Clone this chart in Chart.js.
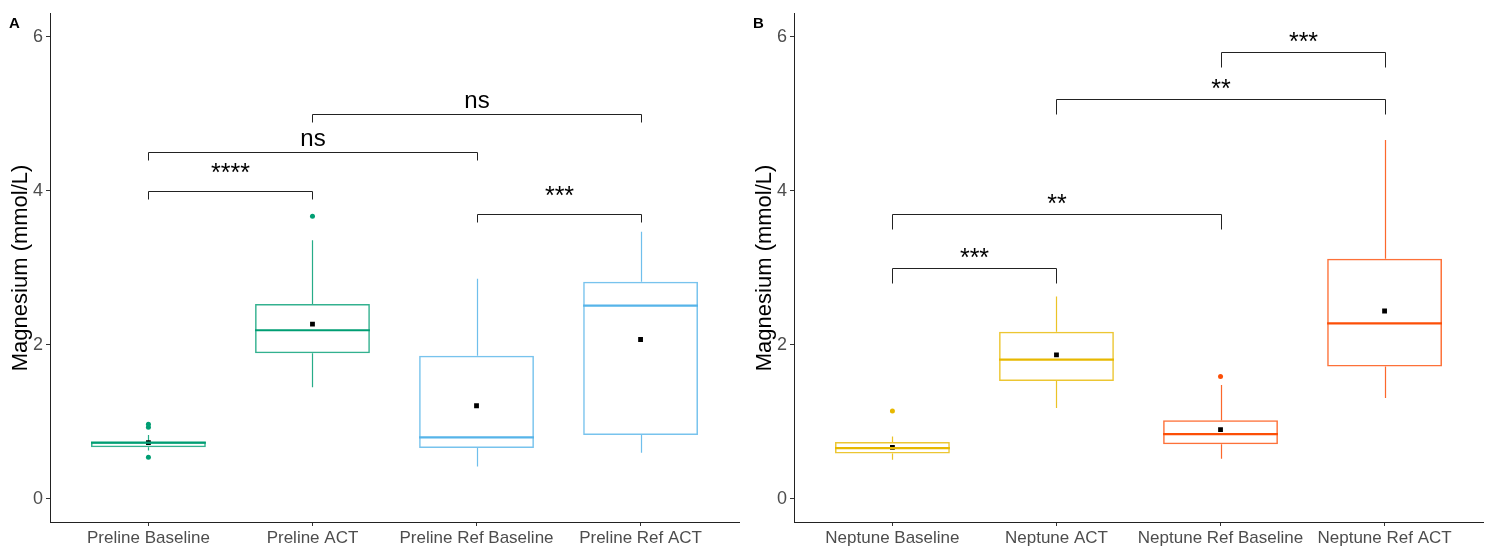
<!DOCTYPE html>
<html>
<head>
<meta charset="utf-8">
<script src="https://cdn.jsdelivr.net/npm/chart.js@4.4.1/dist/chart.umd.min.js"></script>
<style>
  body { margin: 0; background: #fff; }
  #wrap { display: flex; width: 1488px; height: 547px; }
  canvas { display: block; }
</style>
</head>
<body>
<div id="wrap">
  <canvas id="panelA" width="744" height="547"></canvas>
  <canvas id="panelB" width="744" height="547"></canvas>
</div>
<script>
// ---- data ----
const yTicks = [0, 2, 4, 6];

const prelineGroups = ['Preline Baseline', 'Preline ACT', 'Preline Ref Baseline', 'Preline Ref ACT'];
const prelineLow = [0.63, 1.45, 0.42, 0.60];
const prelineQ1 = [0.67, 1.89, 0.66, 0.83];
const prelineMedian = [0.73, 2.19, 0.80, 2.51];
const prelineQ3 = [0.74, 2.53, 1.86, 2.82];
const prelineHigh = [0.83, 3.36, 2.86, 3.47];
const prelineMean = [0.73, 2.27, 1.21, 2.07];
const prelineOutliers = [[0.54, 0.93, 0.97], [3.67], [], []];
const prelinePairs = [[0, 1], [0, 2], [1, 3], [2, 3]];
const prelineBracketY = [4.0, 4.5, 5.0, 3.7];
const prelineSig = ['****', 'ns', 'ns', '***'];

const neptuneGroups = ['Neptune Baseline', 'Neptune ACT', 'Neptune Ref Baseline', 'Neptune Ref ACT'];
const neptuneLow = [0.51, 1.18, 0.52, 1.31];
const neptuneQ1 = [0.59, 1.53, 0.71, 1.72];
const neptuneMedian = [0.66, 1.81, 0.84, 2.28];
const neptuneQ3 = [0.74, 2.17, 1.02, 3.12];
const neptuneHigh = [0.81, 2.63, 1.48, 4.66];
const neptuneMean = [0.67, 1.87, 0.90, 2.44];
const neptuneOutliers = [[1.14], [], [1.59], []];
const neptunePairs = [[0, 1], [0, 2], [1, 3], [2, 3]];
const neptuneBracketY = [3.0, 3.7, 5.19, 5.81];
const neptuneSig = ['***', '**', '**', '***'];

const prelineColors = ['#009E73', '#009E73', '#56B4E9', '#56B4E9'];
const neptuneColors = ['#E7B800', '#E7B800', '#FC4E07', '#FC4E07'];

const FONT = '"Liberation Sans", Arial, sans-serif';

function fade(hex, a) {
  const n = parseInt(hex.slice(1), 16);
  return `rgba(${(n >> 16) & 255}, ${(n >> 8) & 255}, ${n & 255}, ${a})`;
}

// whiskers, medians, brackets and the panel letter
const boxExtras = {
  id: 'boxExtras',
  beforeDatasetsDraw(chart, args, o) {
    const xs = chart.scales.x, ys = chart.scales.y, ctx = chart.ctx;
    ctx.save();
    ctx.lineWidth = 1.2;
    o.low.forEach((lo, i) => {
      const x = Math.round(xs.getPixelForValue(i)) + 0.5;
      ctx.strokeStyle = fade(o.colors[i], 0.85);
      ctx.beginPath();
      ctx.moveTo(x, ys.getPixelForValue(lo));
      ctx.lineTo(x, ys.getPixelForValue(o.q1[i]));
      ctx.moveTo(x, ys.getPixelForValue(o.q3[i]));
      ctx.lineTo(x, ys.getPixelForValue(o.high[i]));
      ctx.stroke();
    });
    ctx.restore();
  },
  afterDatasetDraw(chart, args, o) {
    if (args.index !== 0) return;
    const ys = chart.scales.y, ctx = chart.ctx;
    const bars = chart.getDatasetMeta(0).data;
    ctx.save();
    ctx.lineWidth = 2.2;
    o.median.forEach((m, i) => {
      const b = bars[i];
      const y = ys.getPixelForValue(m);
      ctx.strokeStyle = o.colors[i];
      ctx.beginPath();
      ctx.moveTo(b.x - b.width / 2, y);
      ctx.lineTo(b.x + b.width / 2, y);
      ctx.stroke();
    });
    ctx.restore();
  },
  afterDraw(chart, args, o) {
    const xs = chart.scales.x, ys = chart.scales.y, ctx = chart.ctx;
    ctx.save();
    ctx.strokeStyle = '#222';
    ctx.lineWidth = 1;
    ctx.fillStyle = '#000';
    ctx.textAlign = 'center';
    ctx.textBaseline = 'alphabetic';
    o.pairs.forEach((p, k) => {
      const x1 = Math.round(xs.getPixelForValue(p[0])) + 0.5;
      const x2 = Math.round(xs.getPixelForValue(p[1])) + 0.5;
      const y = Math.round(ys.getPixelForValue(o.bracketY[k])) + 0.5;
      ctx.beginPath();
      ctx.moveTo(x1, y + o.tip);
      ctx.lineTo(x1, y);
      ctx.lineTo(x2, y);
      ctx.lineTo(x2, y + o.tip);
      ctx.stroke();
      const lab = o.sig[k];
      const gap = lab === 'ns' ? o.gapNs : o.gapStar;
      ctx.font = (lab === 'ns' ? '24px ' : '25px ') + FONT;
      ctx.fillText(lab, (x1 + x2) / 2, y - gap);
    });
    ctx.font = 'bold 15px ' + FONT;
    ctx.textAlign = 'left';
    ctx.fillText(o.letter, 9, 28);
    ctx.restore();
  }
};

function makePanel(id, letter, groups, low, q1, median, q3, high, mean, outliers, colors,
                   pairs, bracketY, sig, tip, gapStar, gapNs) {
  const boxes = groups.map((g, i) => ({ x: i, y: [q1[i], q3[i]] }));
  const outPts = [];
  outliers.forEach((list, i) => list.forEach(v => outPts.push({ x: i, y: v })));
  const meanPts = mean.map((m, i) => ({ x: i, y: m }));

  new Chart(document.getElementById(id), {
    type: 'bar',
    data: {
      datasets: [
        {
          data: boxes,
          backgroundColor: 'rgba(255,255,255,0)',
          borderColor: colors.map(c => fade(c, 0.8)),
          borderWidth: 1.5,
          borderSkipped: false,
          barPercentage: 0.7,
          categoryPercentage: 1.0
        },
        {
          type: 'scatter',
          data: outPts,
          pointRadius: 2.5,
          pointBorderWidth: 0,
          pointBackgroundColor: ctx => colors[ctx.raw ? ctx.raw.x : 0]
        },
        {
          type: 'scatter',
          data: meanPts,
          pointStyle: 'rect',
          pointRadius: 3.4,
          pointBorderWidth: 0,
          pointBackgroundColor: '#000'
        }
      ]
    },
    options: {
      responsive: false,
      animation: false,
      layout: { padding: { top: 12, right: 5, left: 0, bottom: 0 } },
      plugins: {
        legend: { display: false },
        tooltip: { enabled: false },
        boxExtras: { low, q1, q3, high, median, colors, pairs, bracketY, sig, tip, gapStar, gapNs, letter }
      },
      scales: {
        x: {
          type: 'linear',
          min: -0.6,
          max: 3.6,
          offset: false,
          afterBuildTicks: s => { s.ticks = groups.map((g, i) => ({ value: i })); },
          afterFit: s => { s.height = 25; },
          ticks: {
            autoSkip: false,
            maxRotation: 0,
            padding: 2,
            color: '#4D4D4D',
            font: { family: FONT, size: 17 },
            callback: v => groups[v]
          },
          grid: { offset: false, drawOnChartArea: false, drawTicks: true, tickLength: 4, color: '#333' },
          border: { display: true, color: '#222', width: 1 }
        },
        y: {
          min: -0.3,
          max: 6.3,
          afterBuildTicks: s => { s.ticks = yTicks.map(v => ({ value: v })); },
          afterFit: s => { s.width = 50; },
          ticks: {
            padding: 3,
            color: '#4D4D4D',
            font: { family: FONT, size: 18 }
          },
          grid: { drawOnChartArea: false, drawTicks: true, tickLength: 4, color: '#333' },
          border: { display: true, color: '#222', width: 1 },
          title: {
            display: true,
            text: 'Magnesium (mmol/L)',
            color: '#000',
            font: { family: FONT, size: 22 },
            padding: { top: 8, bottom: 0 }
          }
        }
      }
    },
    plugins: [boxExtras]
  });
}

makePanel('panelA', 'A', prelineGroups, prelineLow, prelineQ1, prelineMedian, prelineQ3, prelineHigh,
  prelineMean, prelineOutliers, prelineColors, prelinePairs, prelineBracketY, prelineSig, 8, 11, 7);
makePanel('panelB', 'B', neptuneGroups, neptuneLow, neptuneQ1, neptuneMedian, neptuneQ3, neptuneHigh,
  neptuneMean, neptuneOutliers, neptuneColors, neptunePairs, neptuneBracketY, neptuneSig, 15, 3, 7);
</script>
</body>
</html>
